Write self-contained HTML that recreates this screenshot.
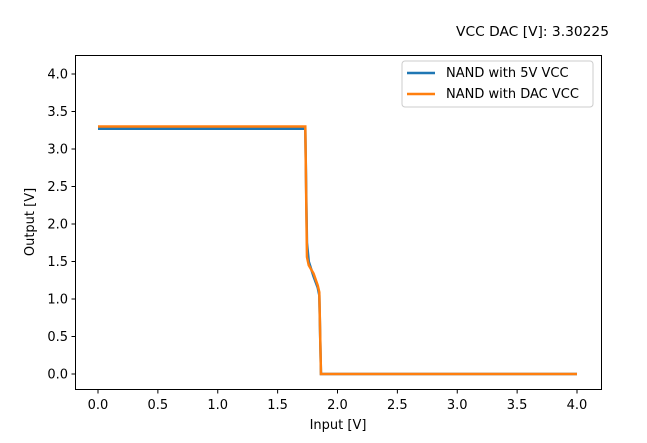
<!DOCTYPE html>
<html><head><meta charset="utf-8"><style>
body{margin:0;background:#fff;}
svg{display:block;font-family:"DejaVu Sans","Liberation Sans",sans-serif;}
</style></head><body>
<svg id="chart" width="647" height="443" viewBox="0 0 647 443" xmlns="http://www.w3.org/2000/svg">
<rect width="647" height="443" fill="#fff"/>
<text x="456" y="36" font-size="13" textLength="153" lengthAdjust="spacingAndGlyphs">VCC DAC [V]: 3.30225</text>
<g id="grid"></g>
<g id="series"></g>
<rect x="75.5" y="55.5" width="526" height="334" fill="none" stroke="#000" stroke-width="1"/>
<g id="ticks"></g>
<text x="338" y="429" text-anchor="middle" font-size="13">Input [V]</text>
<text transform="translate(34,222) rotate(-90)" text-anchor="middle" font-size="13">Output [V]</text>
<g>
<rect x="402" y="61" width="191" height="46" rx="3" fill="#fff" fill-opacity="0.8" stroke="#ccc"/>
<line x1="407" y1="73" x2="435" y2="73" stroke="#1f77b4" stroke-width="2.5"/>
<text x="446" y="77" font-size="13">NAND with 5V VCC</text>
<line x1="407" y1="94" x2="435" y2="94" stroke="#ff7f0e" stroke-width="2.5"/>
<text x="446" y="98" font-size="13">NAND with DAC VCC</text>
</g>
</svg>
<script>
const xTicks=[0,0.5,1,1.5,2,2.5,3,3.5,4];
const yTicks=[0,0.5,1,1.5,2,2.5,3,3.5,4];
const inputV=[0,1.731,1.745,1.76,1.80,1.835,1.848,1.862,4.0];
const out5V=[3.27,3.27,1.75,1.50,1.30,1.15,1.05,0.0,0.0];
const outDac=[3.30,3.30,1.56,1.45,1.34,1.18,1.09,0.0,0.0];
const sx=v=>98+v*119.75, sy=v=>374-v*75;
const NS="http://www.w3.org/2000/svg";
const tk=document.getElementById('ticks');
xTicks.forEach(t=>{
 const l=document.createElementNS(NS,'line');
 l.setAttribute('x1',sx(t));l.setAttribute('x2',sx(t));l.setAttribute('y1',389.5);l.setAttribute('y2',393.5);l.setAttribute('stroke','#000');
 
 
 tk.appendChild(l);
 const tx=document.createElementNS(NS,'text');
 tx.setAttribute('x',sx(t));tx.setAttribute('y',409);tx.setAttribute('text-anchor','middle');tx.setAttribute('font-size','13');
 tx.textContent=t.toFixed(1);
 
 
 tk.appendChild(tx);
});
yTicks.forEach(t=>{
 const l=document.createElementNS(NS,'line');
 l.setAttribute('x1',71.5);l.setAttribute('x2',75.5);l.setAttribute('y1',sy(t));l.setAttribute('y2',sy(t));l.setAttribute('stroke','#000');
 
 
 tk.appendChild(l);
 const tx=document.createElementNS(NS,'text');
 tx.setAttribute('x',68);tx.setAttribute('y',sy(t)+4.5);tx.setAttribute('text-anchor','end');tx.setAttribute('font-size','13');
 tx.textContent=t.toFixed(1);
 
 
 tk.appendChild(tx);
});
const sg=document.getElementById('series');
[[out5V,'#1f77b4','series-5v-vcc'],[outDac,'#ff7f0e','series-dac-vcc']].forEach(([ys,c,n])=>{
 const p=document.createElementNS(NS,'polyline');
 p.setAttribute('points',inputV.map((x,i)=>sx(x)+','+sy(ys[i])).join(' '));
 p.setAttribute('fill','none');p.setAttribute('stroke',c);p.setAttribute('stroke-width','2.5');
 
 
 sg.appendChild(p);
});
</script>
</body></html>
